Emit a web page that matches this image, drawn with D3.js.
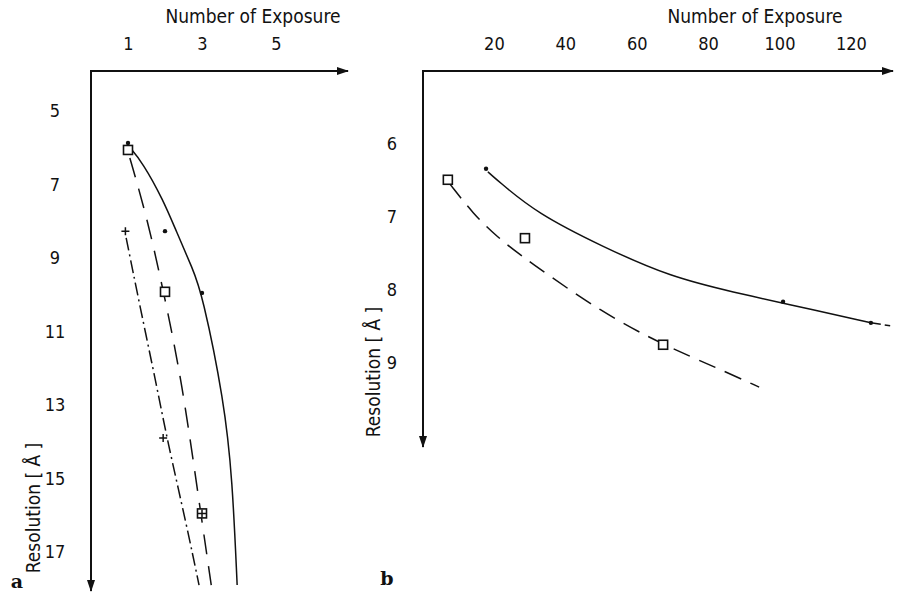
<!DOCTYPE html>
<html>
<head>
<meta charset="utf-8">
<script src="https://d3js.org/d3.v7.min.js"></script>
<style>
  body { margin: 0; background: #fff; }
  svg text { font-family: "DejaVu Sans Condensed", "DejaVu Sans", sans-serif; font-stretch: condensed; fill: #111; }
  .letter { font-family: "DejaVu Serif", "Liberation Serif", serif; font-weight: bold; font-stretch: normal; }
</style>
</head>
<body>
<script>
// tick labels
var xTicksA = [1, 3, 5];
var yTicksA = [5, 7, 9, 11, 13, 15, 17];
var xTicksB = [20, 40, 60, 80, 100, 120];
var yTicksB = [6, 7, 8, 9];

// panel a measured points  [exposures, resolution]
var dotsA = [[1, 5.87], [2, 8.27], [3, 9.95]];
var squaresA = [[1, 6.06], [2, 9.92], [3, 15.95]];
var plusA = [[0.93, 8.27], [1.95, 13.9], [3, 15.95]];

// panel a curves
var solidA = [[1.03, 5.97], [1.4, 6.41], [1.95, 7.42], [2.3, 8.26], [2.75, 9.3], [3.0, 9.95], [3.6, 12.9], [3.82, 15.0], [3.95, 17.9]];
var dashedA = [[1.05, 6.28], [1.53, 7.96], [1.96, 9.92], [2.45, 12.3], [2.96, 15.9], [3.25, 17.9]];
var dashDotA = [[0.95, 8.45], [1.32, 10.3], [1.8, 12.6], [2.05, 13.9], [2.59, 16.3], [2.92, 17.9]];

// panel b measured points
var dotsB = [[17.8, 6.34], [101, 8.16], [125.6, 8.45]];
var squaresB = [[7.1, 6.49], [28.7, 7.29], [67.4, 8.75]];

// panel b curves
var solidB = [[18.3, 6.38], [20.8, 6.49], [32, 6.95], [50.6, 7.41], [69.3, 7.82], [88, 8.04], [101, 8.18], [125.6, 8.45]];
var solidBExt = [[125.6, 8.45], [131, 8.49]];
var dashedB = [[7.7, 6.55], [14.1, 6.95], [20.8, 7.27], [29.2, 7.59], [50.6, 8.32], [67.4, 8.75], [82.6, 9.07], [94.3, 9.33]];

var svg = d3.select("body").append("svg")
            .attr("width", 905)
            .attr("height", 595);

svg.append("defs").append("marker")
   .attr("id", "arrow")
   .attr("viewBox", "0 0 12 8")
   .attr("refX", 11)
   .attr("refY", 4)
   .attr("markerWidth", 12)
   .attr("markerHeight", 8)
   .attr("markerUnits", "userSpaceOnUse")
   .attr("orient", "auto")
   .append("path")
   .attr("d", "M0,0 L12,4 L0,8 Z")
   .attr("fill", "#111");

var drawPanel = function(p)
{
  var g = svg.append("g");

  // axes lines with arrows
  g.append("line")
   .attr("x1", p.x0).attr("y1", p.y0)
   .attr("x2", p.xEnd).attr("y2", p.y0)
   .attr("stroke", "#111").attr("stroke-width", 2)
   .attr("marker-end", "url(#arrow)");
  g.append("line")
   .attr("x1", p.x0).attr("y1", p.y0 - 1)
   .attr("x2", p.x0).attr("y2", p.yEnd)
   .attr("stroke", "#111").attr("stroke-width", 2)
   .attr("marker-end", "url(#arrow)");

  // tick labels through d3 axes
  var xAxis = d3.axisTop(p.x).tickValues(p.xTicks).tickFormat(d3.format("d")).tickSize(0).tickPadding(21);
  var gx = g.append("g")
            .attr("transform", "translate(0," + p.y0 + ")")
            .call(xAxis);
  gx.select(".domain").remove();
  gx.selectAll("text").attr("font-size", 18).style("font-family", null);

  var yAxis = d3.axisLeft(p.y).tickValues(p.yTicks).tickFormat(d3.format("d")).tickSize(0).tickPadding(p.yPad);
  var gy = g.append("g")
            .attr("transform", "translate(" + p.x0 + ",0)")
            .call(yAxis);
  gy.select(".domain").remove();
  gy.selectAll("text").attr("font-size", 18).attr("text-anchor", "middle").style("font-family", null);

  // titles
  g.append("text")
   .attr("x", p.titleX).attr("y", 23)
   .attr("text-anchor", "middle")
   .attr("font-size", 19)
   .text("Number of Exposure");

  g.append("text")
   .attr("transform", "translate(" + p.labelX + "," + p.labelY + ") rotate(-90)")
   .attr("text-anchor", "middle")
   .attr("font-size", 19)
   .text("Resolution  [ Å ]");

  g.append("text")
   .attr("class", "letter")
   .attr("x", p.letterX).attr("y", p.letterY)
   .attr("text-anchor", "middle")
   .attr("font-size", 19)
   .text(p.letter);

  var line = d3.line()
               .x(function(d) { return p.x(d[0]); })
               .y(function(d) { return p.y(d[1]); })
               .curve(d3.curveBasis);

  p.curves.forEach(function(c) {
    g.append("path")
     .datum(c.data)
     .attr("d", line)
     .attr("fill", "none")
     .attr("stroke", "#111")
     .attr("stroke-width", 1.5)
     .attr("stroke-dasharray", c.dash);
  });

  // markers
  g.selectAll(".dot")
   .data(p.dots)
   .enter()
   .append("circle")
   .attr("cx", function(d) { return p.x(d[0]); })
   .attr("cy", function(d) { return p.y(d[1]); })
   .attr("r", 2.2)
   .attr("fill", "#111");

  g.selectAll(".sq")
   .data(p.squares)
   .enter()
   .append("rect")
   .attr("x", function(d) { return p.x(d[0]) - 4.5; })
   .attr("y", function(d) { return p.y(d[1]) - 4.5; })
   .attr("width", 9)
   .attr("height", 9)
   .attr("fill", "#fff")
   .attr("stroke", "#111")
   .attr("stroke-width", 1.6);

  g.selectAll(".plus")
   .data(p.plus)
   .enter()
   .append("path")
   .attr("d", function(d) {
     var cx = p.x(d[0]), cy = p.y(d[1]);
     return "M" + (cx - 4) + "," + cy + "H" + (cx + 4) + "M" + cx + "," + (cy - 4) + "V" + (cy + 4);
   })
   .attr("stroke", "#111")
   .attr("stroke-width", 1.5);
}

// panel a
drawPanel({
  x: d3.scaleLinear().domain([0, 7]).range([91, 91 + 7 * 37]),
  y: d3.scaleLinear().domain([5, 17]).range([111, 552]),
  x0: 91, y0: 71, xEnd: 348, yEnd: 591,
  xTicks: xTicksA, yTicks: yTicksA, yPad: 36,
  titleX: 253, labelX: 40, labelY: 508,
  letter: "a", letterX: 17, letterY: 588,
  curves: [
    {data: solidA, dash: null},
    {data: dashedA, dash: "20,12"},
    {data: dashDotA, dash: "13,4,2,4"}
  ],
  dots: dotsA, squares: squaresA, plus: plusA
});

// panel b
drawPanel({
  x: d3.scaleLinear().domain([0, 130]).range([422.5, 422.5 + 130 * 3.57]),
  y: d3.scaleLinear().domain([5, 9]).range([71, 363]),
  x0: 423, y0: 71, xEnd: 893, yEnd: 447,
  xTicks: xTicksB, yTicks: yTicksB, yPad: 31,
  titleX: 755, labelX: 380, labelY: 372,
  letter: "b", letterX: 387, letterY: 585,
  curves: [
    {data: solidB, dash: null},
    {data: solidBExt, dash: "10,4"},
    {data: dashedB, dash: "18,10"}
  ],
  dots: dotsB, squares: squaresB, plus: []
});
</script>
</body>
</html>
